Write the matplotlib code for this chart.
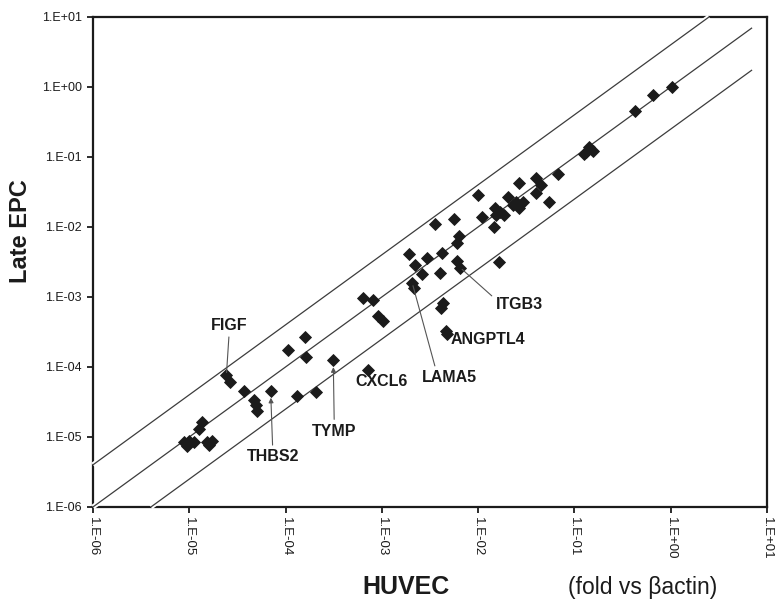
import numpy as np
import matplotlib.pyplot as plt
from matplotlib import patheffects as pe
from matplotlib.ticker import FixedLocator, FuncFormatter, NullLocator

plt.rcParams.update({
    "font.family": ["Liberation Sans", "DejaVu Sans"],
    "axes.linewidth": 1.6,
})

INK = "#1b1b1b"
GRAY = "#3c3c3c"

# expression, fold vs beta-actin: unlabelled angiogenesis genes
huvec = [
    8.85e-6, 1.00e-5, 1.12e-5, 1.26e-5, 1.36e-5, 1.53e-5, 1.73e-5, 9.5e-6, 1.61e-5,
    2.68e-5, 3.66e-5, 4.67e-5, 4.9e-5, 5.0e-5, 1.06e-4, 1.59e-4, 1.64e-4, 1.30e-4,
    2.05e-4, 6.3e-4, 8.0e-4, 9.1e-4, 1.02e-3,
    1.91e-3, 2.21e-3, 2.95e-3, 2.63e-3, 4.2e-3, 4.03e-3, 3.53e-3, 4.27e-3, 4.07e-3,
    5.56e-3, 6.3e-3, 6.0e-3, 6.0e-3, 2.15e-3, 4.75e-3,
    1.0e-2, 1.09e-2, 1.48e-2, 1.55e-2, 1.45e-2, 1.67e-2, 1.65e-2, 2.06e-2, 2.32e-2,
    2.68e-2, 2.95e-2, 2.66e-2, 4.0e-2, 4.51e-2, 5.48e-2, 6.75e-2, 4.02e-2, 1.87e-2,
    2.49e-2,
    0.125, 0.141, 0.131, 0.155, 0.428, 0.655, 1.03,
]
late_epc = [
    8.5e-6, 8.8e-6, 8.6e-6, 1.31e-5, 1.61e-5, 8.6e-6, 8.9e-6, 7.5e-6, 7.8e-6,
    6.2e-5, 4.5e-5, 3.37e-5, 2.86e-5, 2.35e-5, 1.77e-4, 2.65e-4, 1.37e-4, 3.9e-5,
    4.35e-5, 9.8e-4, 9.2e-4, 5.4e-4, 4.6e-4,
    4.09e-3, 2.85e-3, 3.61e-3, 2.13e-3, 4.28e-3, 2.22e-3, 1.11e-2, 8.3e-4, 7.0e-4,
    1.31e-2, 7.5e-3, 5.98e-3, 3.31e-3, 1.36e-3, 3.0e-4,
    2.84e-2, 1.37e-2, 1.88e-2, 1.48e-2, 9.95e-3, 1.63e-2, 3.16e-3, 2.69e-2, 2.07e-2,
    1.88e-2, 2.29e-2, 4.28e-2, 5.07e-2, 4.04e-2, 2.27e-2, 5.64e-2, 3.1e-2, 1.48e-2,
    2.28e-2,
    0.110, 0.139, 0.118, 0.122, 0.448, 0.764, 1.0,
]

# labelled genes
genes = ["FIGF", "THBS2", "TYMP", "CXCL6", "LAMA5", "ANGPTL4", "ITGB3"]
gene_huvec = [2.43e-5, 7.0e-5, 3.13e-4, 7.2e-4, 2.07e-3, 4.62e-3, 6.5e-3]
gene_epc = [7.6e-5, 4.57e-5, 1.25e-4, 9.1e-5, 1.58e-3, 3.3e-4, 2.63e-3]

decades = [1e-6, 1e-5, 1e-4, 1e-3, 1e-2, 1e-1, 1e0, 1e1]
fold_band = 4.0     # outer guide lines at 4-fold up / down
guide_end = 7.0     # guide lines stop short of the right edge

fig = plt.figure(figsize=(7.76, 6.10), dpi=100)
fig.patch.set_facecolor("white")
ax = fig.add_axes([0.1198, 0.1689, 0.8686, 0.8033])
ax.set_xscale("log")
ax.set_yscale("log")
lo, hi = decades[0], decades[-1]
ax.set_xlim(lo, hi)
ax.set_ylim(lo, hi)

# identity line and +/- fold band, white halo so they cut through the frame
halo = [pe.Stroke(linewidth=3.6, foreground="white"), pe.Normal()]
for k in (fold_band, 1.0, 1.0 / fold_band):
    x0 = max(lo, lo / k)
    x1 = min(guide_end, hi / k)
    xs = np.array([x0, x1])
    ax.plot(xs, xs * k, color=GRAY, lw=0.9, zorder=3, clip_on=False,
            path_effects=halo, solid_capstyle="butt")

all_x = huvec + gene_huvec
all_y = late_epc + gene_epc
ax.plot(all_x, all_y, "D", ms=5.8, color=INK, mec=INK, mew=0.6,
        ls="none", zorder=4)

# gene call-outs: offset in points, connector style, anchor on the text box
callouts = {
    "FIGF":    ((2, 36), "-", (0.5, 0.0)),
    "THBS2":   ((1.5, -47.5), "-|>", (0.5, 1.0)),
    "TYMP":    ((0.7, -51), "-|>", (0.5, 1.0)),
    "CXCL6":   ((10, -8.6), None, None),
    "LAMA5":   ((27, -68), "-", (0.25, 1.0)),
    "ANGPTL4": ((30, -6.5), None, None),
    "ITGB3":   ((42.5, -26.6), "-", (0.0, 0.85)),
}
for g, gx, gy in zip(genes, gene_huvec, gene_epc):
    off, style, rel = callouts[g]
    props = None
    if style is not None:
        props = dict(arrowstyle=style, color="#555555", lw=0.8, relpos=rel,
                     mutation_scale=7, shrinkA=1,
                     shrinkB=5 if style == "-|>" else 2)
    ax.annotate(g, xy=(gx, gy), xytext=off, textcoords="offset points",
                ha="center", va="center", fontsize=11.5, fontweight="bold",
                color=INK, arrowprops=props, zorder=5)

# axes furniture
fmt = FuncFormatter(lambda v, _: f"1.E{int(round(np.log10(v))):+03d}")
for axis in (ax.xaxis, ax.yaxis):
    axis.set_major_locator(FixedLocator(decades))
    axis.set_minor_locator(NullLocator())
    axis.set_major_formatter(fmt)
ax.tick_params(direction="out", length=4, width=1.3, colors=INK)
ax.tick_params(axis="y", labelsize=9, pad=4)
ax.tick_params(axis="x", labelsize=9.5, pad=3, labelrotation=-90)
for s in ax.spines.values():
    s.set_color(INK)
    s.set_zorder(2.5)

ax.text(-0.108, 0.563, "Late EPC", transform=ax.transAxes, rotation=90,
        ha="center", va="center", fontsize=17, fontweight="bold", color=INK)
ax.text(0.464, -0.163, "HUVEC", transform=ax.transAxes,
        ha="center", va="center", fontsize=18, fontweight="bold", color=INK)
ax.text(0.816, -0.165, "(fold vs \u03b2actin)", transform=ax.transAxes,
        ha="center", va="center", fontsize=16.5, color=INK)

fig.savefig("out.png", dpi=100)
